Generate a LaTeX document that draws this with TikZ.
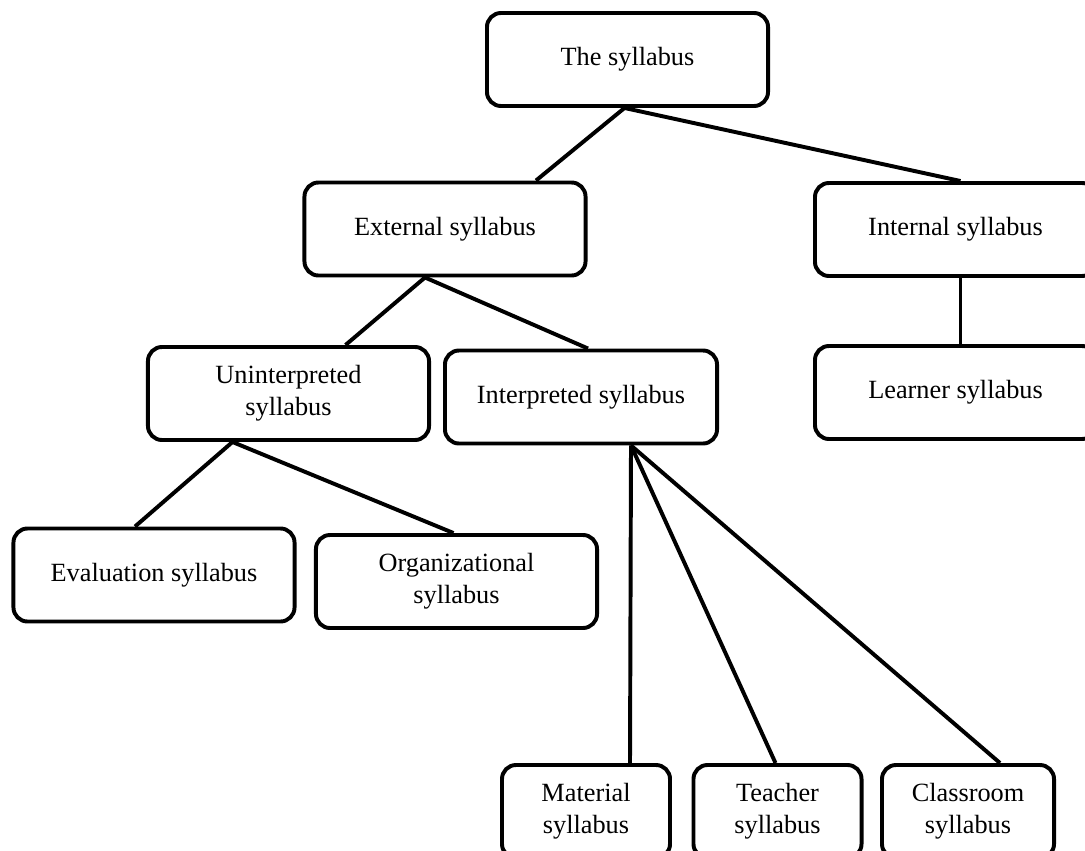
\documentclass[tikz,border=0pt]{standalone}
\usepackage{fontspec}
\setmainfont{Liberation Serif}
\usetikzlibrary{calc}
\tikzset{sylbox/.style={draw,line width=2.8pt,rounded corners=10pt,
      minimum width=7.025cm,minimum height=2.325cm,inner sep=0pt,
      align=center,font=\fontsize{18.7}{23}\selectfont},
    smallbox/.style={sylbox,minimum width=4.2cm},
    link/.style={line width=2.8pt}}
\begin{document}
\begin{tikzpicture}[x=0.025cm,y=-0.025cm]
      \useasboundingbox (0,0) rectangle (1085,850);
      \clip (0,0) rectangle (1085,850);
      \path (627.5,59.5) node[sylbox] (syl) {The syllabus};
      \path (445,229) node[sylbox] (ext) {External syllabus};
      \path (955.5,229.5) node[sylbox] (int) {Internal syllabus};
      \path (288.5,393.5) node[sylbox] (unint) {Uninterpreted\\syllabus};
      \path (581,397) node[sylbox,minimum width=6.8cm] (interp) {Interpreted syllabus};
      \path (955.5,392.5) node[sylbox] (learner) {Learner syllabus};
      \path (154,575) node[sylbox] (eval) {Evaluation syllabus};
      \path (456.5,581.5) node[sylbox] (org) {Organizational\\syllabus};
      \path (586,811.5) node[smallbox] (mat) {Material\\syllabus};
      \path (777.5,811.5) node[smallbox] (teach) {Teacher\\syllabus};
      \path (968,811.5) node[smallbox,minimum width=4.3cm] (class) {Classroom\\syllabus};
      \draw[link] ($(ext.north)+(91,0)$) -- ($(syl.south)+(-3,0)$) -- ($(int.north)+(5,0)$);
      \draw[link] ($(unint.north)+(57,0)$) -- ($(ext.south)+(-20,0)$) -- ($(interp.north)+(7,0)$);
      \draw[link] ($(int.south)+(5,0)$) -- ($(learner.north)+(5,0)$);
      \draw[link] ($(eval.north)+(-19,0)$) -- ($(unint.south)+(-56,0)$) -- ($(org.north)+(-3,0)$);
      \draw[link] ($(mat.north)+(44,0)$) -- ($(interp.south)+(50,0)$);
      \draw[link] ($(teach.north)+(-2,0)$) -- ($(interp.south)+(50,0)$);
      \draw[link] ($(class.north)+(32,0)$) -- ($(interp.south)+(50,0)$);
     \end{tikzpicture}
\end{document}
